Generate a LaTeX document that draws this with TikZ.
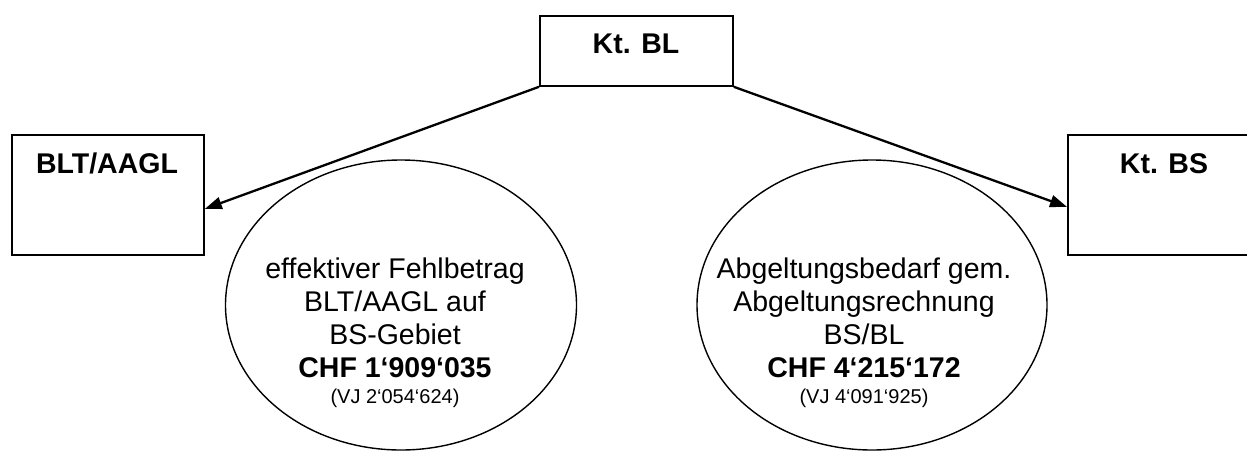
\documentclass[tikz,border=0pt]{standalone}
\usepackage{fontspec}
\setmainfont{Liberation Sans}
\usetikzlibrary{arrows.meta,shapes.geometric}
\begin{document}
\begin{tikzpicture}[x=1pt,y=-1pt,
  box/.style={draw,line width=1.8pt,rectangle,inner sep=0pt,anchor=north west},
  oval/.style={draw,line width=1.4pt,ellipse,inner sep=0pt},
  title/.style={font=\fontsize{28.5}{32}\selectfont\bfseries,anchor=base,inner sep=0pt},
  body/.style={font=\fontsize{28.5}{33}\selectfont,align=center,anchor=base,inner sep=0pt},
  conn/.style={line width=2.3pt,-{Triangle[length=17pt,width=12pt]}}]
\useasboundingbox (0,0) rectangle (1247,451);
\clip (0,0) rectangle (1247,451);
\fill[white] (0,0) rectangle (1247,451);
% boxes
\node[box,minimum width=193pt,minimum height=70pt] (bl) at (539,15) {};
\node[box,minimum width=192pt,minimum height=120pt] (blt) at (11,134) {};
\node[box,minimum width=200pt,minimum height=120pt] (bs) at (1067,134) {};
\node[title] (blt-t) at (107,173) {BLT/AAGL};
\node[title] (bl-t) at (636,53) {Kt. BL};
\node[title] (bs-t) at (1164,173) {Kt. BS};
% ellipses
\node[oval,minimum width=351pt,minimum height=290pt] (e1) at (401,305) {};
\node[oval,minimum width=350pt,minimum height=290pt] (e2) at (872,305) {};
\node[body] (e1-t) at (395,403) {effektiver Fehlbetrag\\BLT/AAGL auf\\BS-Gebiet\\\textbf{CHF 1‘909‘035}\\[-7pt]{\fontsize{20}{24}\selectfont (VJ 2‘054‘624)}};
\node[body] (e2-t) at (864,403) {Abgeltungsbedarf gem.\\Abgeltungsrechnung\\BS/BL\\\textbf{CHF 4‘215‘172}\\[-7pt]{\fontsize{20}{24}\selectfont (VJ 4‘091‘925)}};
% connectors
\draw[conn] (bl.south west) -- ([yshift=-14pt]blt.east);
\draw[conn] (bl.south east) -- ([yshift=-12pt]bs.west);
\end{tikzpicture}
\end{document}
